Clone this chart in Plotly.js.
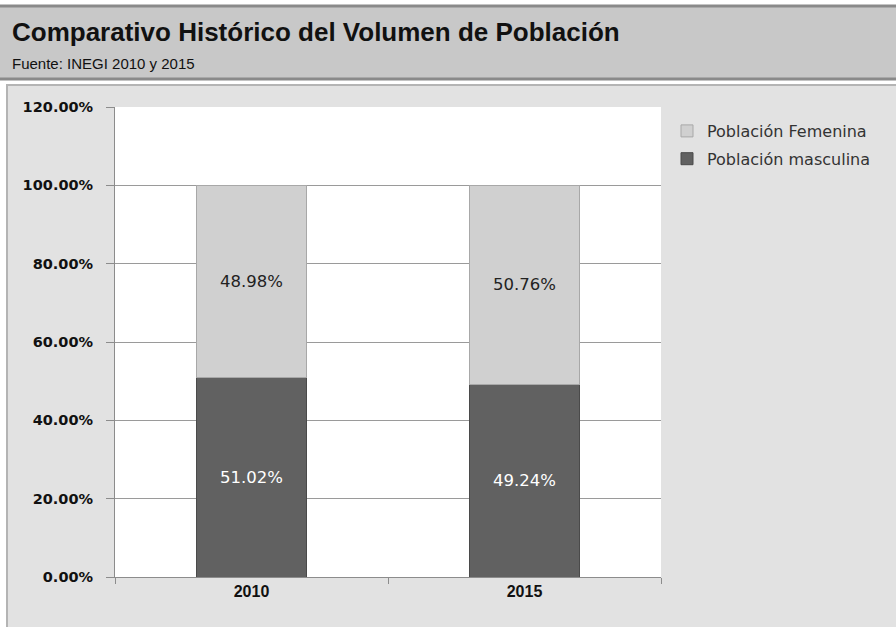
<!DOCTYPE html>
<html>
<head>
<meta charset="utf-8">
<script src="https://cdn.plot.ly/plotly-3.0.1.min.js"></script>
<style>html,body{margin:0;padding:0;background:#ffffff;}#chart{width:896px;height:627px;}</style>
</head>
<body>
<div id="chart"></div>
<script>
const categories = ['2010', '2015'];
const masculina = [0.5102, 0.4924];
const femenina = [0.4898, 0.5076];
const seriesNames = ['Población masculina', 'Población Femenina'];
const yTicks = [0, 0.2, 0.4, 0.6, 0.8, 1.0, 1.2];

const L = 115, R = 661, T = 107, B = 577;
const px = v => (v - L) / (R - L);
const py = v => (B - v) / (B - T);

const fontFam = 'Liberation Sans, Arial, sans-serif';
const wideFam = 'DejaVu Sans, Verdana, sans-serif';

const traces = [
  {
    type: 'bar', name: seriesNames[0], x: categories, y: masculina,
    legendgroup: 'm', legendrank: 2,
    marker: {color: '#616161', line: {color: '#4a4a4a', width: 1}},
    text: masculina.map(v => (v * 100).toFixed(2) + '%'),
    textposition: 'inside', insidetextanchor: 'middle',
    textfont: {color: '#ffffff', size: 16.5, family: wideFam},
    hoverinfo: 'x+y'
  },
  {
    type: 'bar', name: seriesNames[1], x: categories, y: femenina,
    legendgroup: 'f', legendrank: 1,
    marker: {color: '#d0d0d0', line: {color: '#a8a8a8', width: 1}},
    text: femenina.map(v => (v * 100).toFixed(2) + '%'),
    textposition: 'inside', insidetextanchor: 'middle',
    textfont: {color: '#222222', size: 16.5, family: wideFam},
    hoverinfo: 'x+y'
  }
];

const layout = {
  width: 896, height: 627,
  margin: {l: L, r: 896 - R, t: T, b: 627 - B, pad: 0},
  paper_bgcolor: '#ffffff',
  plot_bgcolor: '#ffffff',
  barmode: 'stack',
  bargap: 0.6,
  showlegend: true,
  legend: {
    x: px(667), y: py(114), xanchor: 'left', yanchor: 'top',
    traceorder: 'grouped', bgcolor: 'rgba(0,0,0,0)',
    font: {family: wideFam, size: 16, color: '#333333'},
    itemwidth: 30, tracegroupgap: 4
  },
  xaxis: {
    type: 'category',
    showline: true, linecolor: '#8c8c8c', linewidth: 1,
    ticks: 'outside', tickson: 'boundaries', ticklen: 6, tickcolor: '#8c8c8c',
    tickfont: {family: fontFam, size: 16, color: '#111111', weight: 'bold'},
    showgrid: false, zeroline: false, fixedrange: true
  },
  yaxis: {
    range: [0, 1.2], tickvals: yTicks, tickformat: '.2%',
    showline: true, linecolor: '#8c8c8c', linewidth: 1,
    ticks: 'outside', ticklen: 8, tickcolor: '#8c8c8c',
    ticklabelstandoff: 10,
    showgrid: true, gridcolor: '#9a9a9a', gridwidth: 1,
    zeroline: false,
    tickfont: {family: wideFam, size: 14.5, color: '#111111', weight: 'bold'},
    fixedrange: true
  },
  shapes: [
    {type: 'rect', xref: 'paper', yref: 'paper', layer: 'below',
     x0: px(7), x1: px(900), y0: py(85), y1: py(630),
     fillcolor: '#e2e2e2', line: {color: '#b4b4b4', width: 2}},
    {type: 'rect', xref: 'paper', yref: 'paper', layer: 'below',
     x0: 0, x1: 1, y0: 0, y1: 1,
     fillcolor: '#ffffff', line: {width: 0}},
    {type: 'rect', xref: 'paper', yref: 'paper', layer: 'below',
     x0: px(-5), x1: px(900), y0: py(6), y1: py(79),
     fillcolor: '#c8c8c8', line: {color: '#8a8a8a', width: 3}}
  ],
  annotations: [
    {text: '<b>Comparativo Histórico del Volumen de Población</b>', xref: 'paper', yref: 'paper',
     x: px(10), y: py(32), xanchor: 'left', yanchor: 'middle', showarrow: false,
     font: {family: fontFam, size: 26, color: '#111111'}},
    {text: 'Fuente: INEGI 2010 y 2015', xref: 'paper', yref: 'paper',
     x: px(10), y: py(63), xanchor: 'left', yanchor: 'middle', showarrow: false,
     font: {family: fontFam, size: 15, color: '#111111'}}
  ]
};

Plotly.newPlot('chart', traces, layout, {displayModeBar: false, staticPlot: true});
</script>
</body>
</html>
